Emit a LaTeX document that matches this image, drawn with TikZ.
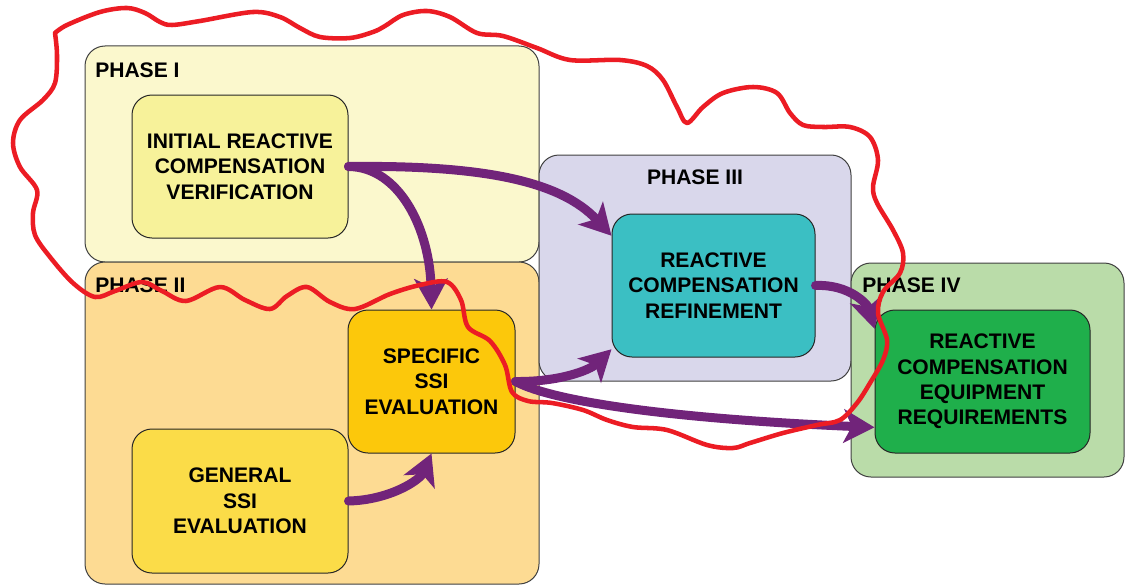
\documentclass[tikz,border=0pt]{standalone}
\usepackage{fontspec}
\setmainfont{Liberation Sans}
\usetikzlibrary{arrows.meta}

\definecolor{pIfill}{HTML}{FBF8CD}
\definecolor{pIIfill}{HTML}{FDDB93}
\definecolor{pIIIfill}{HTML}{D9D7EB}
\definecolor{pIVfill}{HTML}{BADCA9}
\definecolor{initfill}{HTML}{F7F29A}
\definecolor{specfill}{HTML}{FCC80B}
\definecolor{genfill}{HTML}{FBDC48}
\definecolor{reffill}{HTML}{3BBFC3}
\definecolor{eqfill}{HTML}{1FAF4B}
\definecolor{flowpurple}{HTML}{71247A}
\definecolor{loopred}{HTML}{EC1C24}

\begin{document}
\begin{tikzpicture}[x=0.75pt,y=-0.75pt,
  phase/.style={draw=black!75, line width=0.75pt, rounded corners=15pt, inner sep=0pt},
  stage/.style={draw=black!85, line width=0.75pt, rounded corners=15pt, align=center,
    inner sep=0pt, font=\bfseries\fontsize{15.8}{19.1}\selectfont},
  phaselabel/.style={inner sep=0pt, font=\bfseries\fontsize{15.8}{19}\selectfont},
  flow/.style={draw=flowpurple, line width=6.75pt, line cap=round,
    -{Stealth[length=23pt,width=25pt,inset=6pt]}},
  loop/.style={draw=loopred, line width=3.4pt, line cap=round, line join=round},
]
\useasboundingbox (0,0) rectangle (1126,585);

% phase containers
\node[phase, fill=pIfill,   minimum width=340.5pt, minimum height=162pt]   (p1) at (312,154) {};
\node[phase, fill=pIIfill,  minimum width=340.5pt, minimum height=241.5pt] (p2) at (312,423) {};
\node[phase, fill=pIIIfill, minimum width=234pt,   minimum height=169.5pt] (p3) at (695,268) {};
\node[phase, fill=pIVfill,  minimum width=204.75pt, minimum height=160.5pt] (p4) at (987.5,370) {};

% phase titles
\node[phaselabel, anchor=base west] (t1) at (95,77.5)  {PHASE I};
\node[phaselabel, anchor=base west] (t2) at (95,292)   {PHASE II};
\node[phaselabel, anchor=base]      (t3) at (695,184)  {PHASE III};
\node[phaselabel, anchor=base west] (t4) at (862,292)  {PHASE IV};

% stages
\node[stage, fill=initfill, minimum width=162pt,    minimum height=107.25pt] (init) at (240,166.5)
  {INITIAL REACTIVE\\COMPENSATION\\VERIFICATION};
\node[stage, fill=specfill, minimum width=125.25pt, minimum height=107.25pt] (spec) at (431.5,381.5)
  {SPECIFIC\\SSI\\EVALUATION};
\node[stage, fill=genfill,  minimum width=162pt,    minimum height=108pt]    (gen)  at (240,501)
  {GENERAL\\SSI\\EVALUATION};
\node[stage, fill=reffill,  minimum width=152.25pt, minimum height=107.25pt] (ref)  at (713.5,285.5)
  {REACTIVE\\COMPENSATION\\REFINEMENT};
\node[stage, fill=eqfill,   minimum width=161.25pt, minimum height=107.25pt] (eq)   at (982.5,381.5)
  {REACTIVE\\COMPENSATION\\EQUIPMENT\\REQUIREMENTS};

% flows between stages
\draw[flow] (init.east) .. controls (400,167) and (430,230) .. (spec.north);
\draw[flow] (init.east) .. controls (480,165) and (560,180) .. (ref.154);
\draw[flow] (gen.east)  .. controls (390,500) and (420,480) .. (spec.south);
\draw[flow] (spec.east) .. controls (560,382) and (590,370) .. (ref.212);
\draw[flow] (spec.east) .. controls (560,405) and (700,420) .. (eq.203);
\draw[flow] (ref.east)  .. controls (850,284) and (868,305) .. (eq.154);

% hand-drawn loop around the first three phases
\draw[loop] plot[smooth, tension=0.55] coordinates {
  (55,33) (67,25) (100,12) (127,8) (145,13) (160,22) (172,25) (200,21) (253,12)
  (280,17) (300,28) (320,37) (350,38) (373,32) (385,26) (403,15) (427,11) (450,17)
  (477,33) (503,36) (537,48) (570,60) (620,60) (647,66) (663,80) (677,107) (687,123)
  (703,107) (723,93) (753,87) (777,93) (790,113) (803,125) (823,127) (850,127)
  (870,137) (878,160) (873,187) (877,203) (893,230) (903,253) (900,273) (883,292)
  (878,313) (887,340) (883,360) (870,383) (857,403) (840,420) (817,425) (783,433)
  (750,443) (733,448) (707,445) (667,430) (633,427) (607,420) (583,410) (552,403)
  (528,401) (512,392) (505,365) (490,341) (468,327) (461,300) (447,282) (420,285)
  (390,294) (355,309) (330,302) (307,287) (287,296) (270,309) (245,300) (220,287)
  (186,301) (162,291) (142,282) (115,291) (95,297) (73,283) (50,257) (35,235)
  (33,213) (37,190) (20,167) (13,143) (20,120) (43,100) (55,83) (57,55) (55,33)};
\end{tikzpicture}
\end{document}
